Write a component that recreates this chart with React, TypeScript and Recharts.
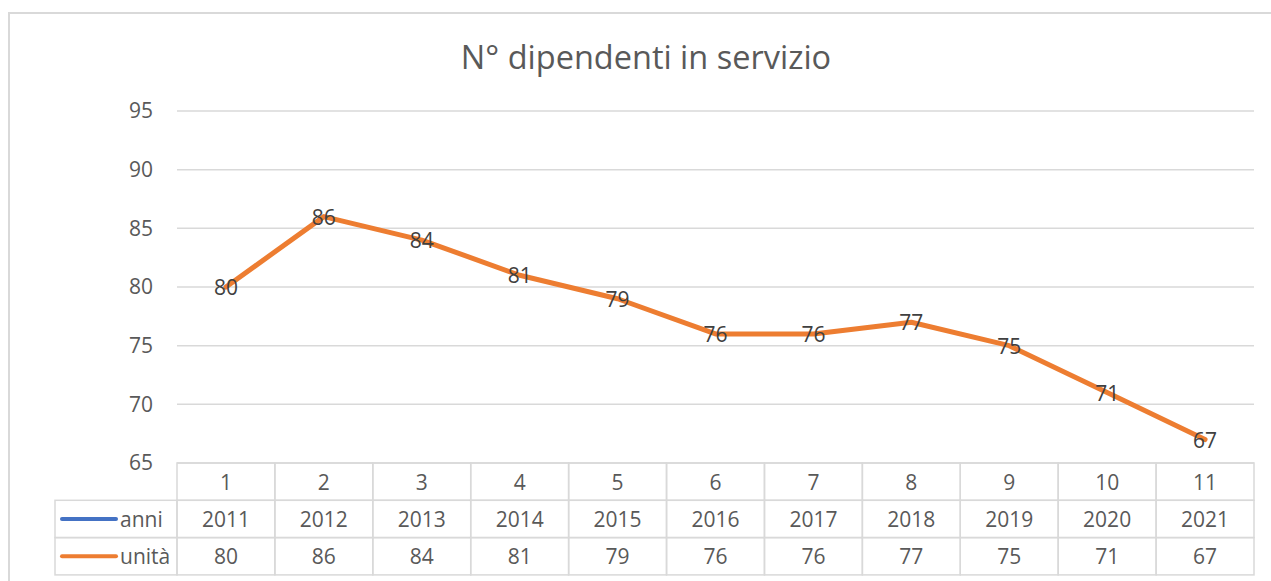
import { LineChart, Line, XAxis, YAxis, CartesianGrid, LabelList } from 'recharts';

// data
const indici = [1, 2, 3, 4, 5, 6, 7, 8, 9, 10, 11];
const anni = [2011, 2012, 2013, 2014, 2015, 2016, 2017, 2018, 2019, 2020, 2021];
const unita = [80, 86, 84, 81, 79, 76, 76, 77, 75, 71, 67];
const yTicks = [65, 70, 75, 80, 85, 90, 95];

const rows = indici.map((n, i) => ({ n, anni: anni[i], unita: unita[i] }));

// layout
const W = 1261;
const H = 567;
const Y_W = 167;
const M = { top: 97, right: 17, bottom: 6, left: 0 };
const X_H = 112;
const ROW_H = 37.3;
const LEG_W = 122;
const FONT = "'Open Sans', 'Noto Sans', sans-serif";
const FS = 21;
const GRID = '#d9d9d9';
const TXT = '#595959';

const bw = (W - Y_W - M.right) / indici.length;

function TableTick(props: any) {
  const { x, y, index, payload } = props;
  const left = x - bw / 2;
  const cell = (row: number, label: string | number) => (
    <g key={row}>
      <rect x={left} y={y + row * ROW_H} width={bw} height={ROW_H} fill='none' stroke={GRID} strokeWidth={1.5} />
      <text x={x} y={y + row * ROW_H + ROW_H / 2} textAnchor='middle' dominantBaseline='central' fontSize={FS} fill={TXT} fontFamily={FONT}>
        {label}
      </text>
    </g>
  );
  return (
    <g>
      {cell(0, payload.value)}
      {cell(1, anni[index])}
      {cell(2, unita[index])}
      {index === 0 && (
        <g>
          {[
            { name: 'anni', color: '#4472C4' },
            { name: 'unità', color: '#ED7D31' },
          ].map((s, r) => {
            const ry = y + (r + 1) * ROW_H;
            return (
              <g key={s.name}>
                <rect x={left - LEG_W} y={ry} width={LEG_W} height={ROW_H} fill='none' stroke={GRID} strokeWidth={1.5} />
                <line x1={left - LEG_W + 7} x2={left - LEG_W + 61} y1={ry + ROW_H / 2} y2={ry + ROW_H / 2} stroke={s.color} strokeWidth={4} strokeLinecap='round' />
                <text x={left - LEG_W + 65} y={ry + ROW_H / 2} dominantBaseline='central' fontSize={FS} fill={TXT} fontFamily={FONT}>
                  {s.name}
                </text>
              </g>
            );
          })}
        </g>
      )}
    </g>
  );
}

function CenterLabel(props: any) {
  const { x, y, value } = props;
  return (
    <text x={x} y={y} textAnchor='middle' dominantBaseline='central' fontSize={FS} fill='#404040' fontFamily={FONT}>
      {value}
    </text>
  );
}

export default function App() {
  return (
    <div
      style={{
        position: 'absolute',
        left: 8,
        top: 12,
        width: W,
        height: H,
        borderTop: `2px solid ${GRID}`,
        borderLeft: `2px solid ${GRID}`,
        background: '#fff',
      }}
    >
      <div
        style={{
          position: 'absolute',
          left: 0,
          width: 1272,
          top: 20,
          textAlign: 'center',
          fontFamily: FONT,
          fontSize: 32.5,
          color: TXT,
        }}
      >
        N° dipendenti in servizio
      </div>
      <LineChart width={W} height={H} data={rows} margin={M}>
        <CartesianGrid vertical={false} stroke={GRID} strokeWidth={1.5} />
        <XAxis
          dataKey='n'
          axisLine={false}
          tickLine={false}
          tickSize={0}
          tickMargin={0}
          height={X_H}
          interval={0}
          padding={{ left: bw / 2, right: bw / 2 }}
          tick={<TableTick />}
        />
        <YAxis
          domain={[65, 95]}
          ticks={yTicks}
          width={Y_W}
          axisLine={false}
          tickLine={false}
          tickSize={0}
          tickMargin={24}
          tick={{ fontSize: FS, fill: TXT, fontFamily: FONT }}
        />
        <Line
          dataKey='unita'
          stroke='#ED7D31'
          strokeWidth={5}
          strokeLinecap='round'
          strokeLinejoin='round'
          dot={false}
          isAnimationActive={false}
        >
          <LabelList dataKey='unita' content={<CenterLabel />} />
        </Line>
      </LineChart>
    </div>
  );
}
